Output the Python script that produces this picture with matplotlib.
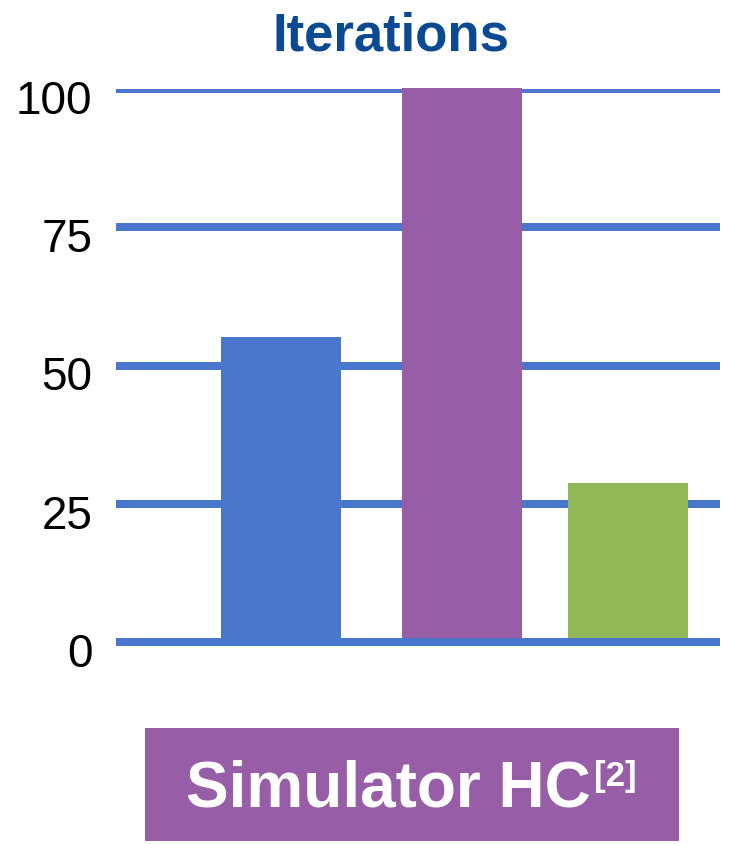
import matplotlib
matplotlib.use("Agg")
import matplotlib.pyplot as plt
import matplotlib.transforms as mtransforms
from matplotlib.patches import Rectangle

# ---- data ----
categories = ["A", "B", "C"]
values = [55.2, 100.2, 28.8]
bar_colors = ["#4A76CB", "#985DA7", "#90B857"]
yticks = [0, 25, 50, 75, 100]
title = "Iterations"
label_main = "Simulator HC"
label_sup = "[2]"

# ---- layout ----
bar_pos = [1.375, 2.883, 4.267]
bar_width = 1.0
W, H = 730, 844
grid_color = "#4A76CB"

plt.rcParams["font.family"] = ["Liberation Sans", "DejaVu Sans"]
plt.rcParams["lines.solid_capstyle"] = "butt"

fig = plt.figure(figsize=(W / 100, H / 100), dpi=100)
ax = fig.add_axes([116 / W, (H - 642) / H, 604 / W, 553 / H])

ax.bar(bar_pos, values, width=bar_width, color=bar_colors, zorder=2,
       clip_on=False)
ax.set_xlim(0, 604 / 120)
ax.set_ylim(0, 100)
ax.set_yticks(yticks)
ax.set_yticklabels([str(t) for t in yticks])
ax.set_xticks([])
ax.set_axisbelow(True)
ax.yaxis.grid(True, color=grid_color, linewidth=5.76)
ax.axhline(0, color=grid_color, linewidth=5.76, zorder=3, clip_on=False)
ax.tick_params(axis="y", length=0, pad=17, labelsize=33, labelcolor="black")
for s in ax.spines.values():
    s.set_visible(False)
offset = mtransforms.ScaledTranslation(0, -8 / 100, fig.dpi_scale_trans)
for lab in ax.get_yticklabels():
    lab.set_transform(lab.get_transform() + offset)

# title
fig.text(391 / W, (H - 50.7) / H, title, ha="center", va="baseline",
         fontsize=38, fontweight="bold", color="#0B4A92")

# label box
fig.patches.append(Rectangle((145 / W, (H - 841) / H), 534 / W, 113.3 / H,
                             transform=fig.transFigure, facecolor="#985DA7",
                             edgecolor="none"))
t_main = fig.text(186 / W, (H - 806.7) / H, label_main, ha="left",
                  va="baseline", fontsize=46, fontweight="bold", color="white")
fig.canvas.draw()
bb = t_main.get_window_extent()
fig.text(bb.x1 / W + 3 / W, (H - 786) / H, label_sup, ha="left",
         va="baseline", fontsize=25, fontweight="bold", color="white")

fig.savefig("out.png", dpi=100)
